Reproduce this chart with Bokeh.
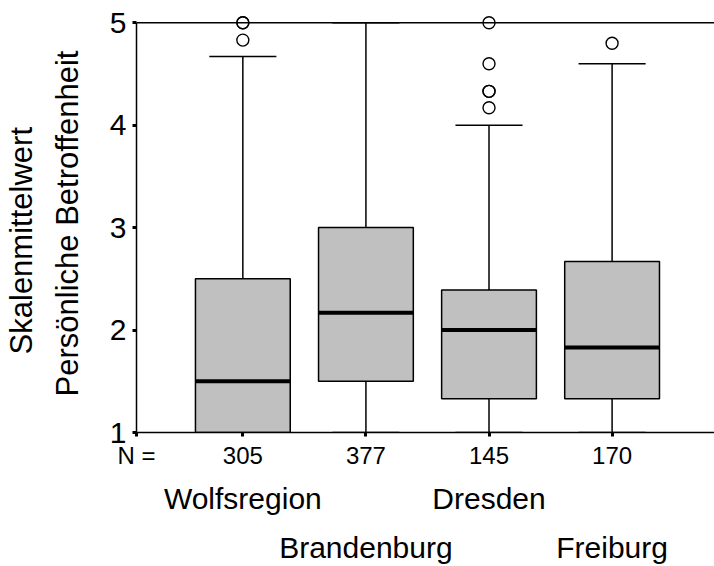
from bokeh.plotting import figure
from bokeh.models import ColumnDataSource, LinearAxis, FixedTicker, Range1d, Span
from bokeh.embed import file_html
from bokeh.resources import INLINE

# Box plot summary per region
categories = ["Wolfsregion", "Brandenburg", "Dresden", "Freiburg"]
n_counts = [305, 377, 145, 170]
q1 = [1.0, 1.5, 1.33, 1.33]
median = [1.5, 2.17, 2.0, 1.83]
q3 = [2.5, 3.0, 2.39, 2.67]
whisker_low = [1.0, 1.0, 1.0, 1.0]
whisker_high = [4.67, 5.0, 4.0, 4.6]

# Outliers: group index (1-based) and value
outlier_group = [1, 1, 1, 3, 3, 3, 3, 3, 4]
outlier_value = [5.0, 5.0, 4.83, 5.0, 4.6, 4.33, 4.33, 4.17, 4.8]

y_ticks = [1, 2, 3, 4, 5]
n_caption = "N ="

FONT = "Liberation Sans"
BOX_W = 0.77
CAP_W = 0.545
X0 = 0.136
NBSP = "\u00a0"

xs = list(range(1, len(categories) + 1))
src = ColumnDataSource(dict(
    x=xs, q1=q1, med=median, q3=q3, lo=whisker_low, hi=whisker_high,
    bl=[x - BOX_W / 2 for x in xs], br=[x + BOX_W / 2 for x in xs],
    cl=[x - CAP_W / 2 for x in xs], cr=[x + CAP_W / 2 for x in xs],
))

p = figure(width=714, height=566, output_backend="svg", toolbar_location=None,
           x_range=Range1d(X0, 4.832), y_range=Range1d(1.0, 5.08),
           x_axis_location=None, y_axis_location=None,
           min_border_left=136, min_border_right=0,
           min_border_top=14, min_border_bottom=134)
p.outline_line_color = None
p.background_fill_color = "white"
p.border_fill_color = "white"
p.xgrid.visible = False
p.ygrid.visible = False

# Top frame line at the scale maximum
p.add_layout(Span(location=5, dimension="width", line_color="black", line_width=1.5))

# Whiskers
p.segment(x0="x", y0="q3", x1="x", y1="hi", source=src, line_color="black", line_width=1.5)
p.segment(x0="x", y0="lo", x1="x", y1="q1", source=src, line_color="black", line_width=1.5)
p.segment(x0="cl", y0="hi", x1="cr", y1="hi", source=src, line_color="black", line_width=1.5)
p.segment(x0="cl", y0="lo", x1="cr", y1="lo", source=src, line_color="black", line_width=1.5)

# Boxes and medians
p.vbar(x="x", width=BOX_W, bottom="q1", top="q3", source=src,
       fill_color="#c0c0c0", line_color="black", line_width=1.5)
p.segment(x0="bl", y0="med", x1="br", y1="med", source=src, line_color="black", line_width=4)

# Outliers
p.scatter(x=outlier_group, y=outlier_value, marker="circle", size=12,
          fill_color=None, line_color="black", line_width=1.4)

# Y axis with a two-line title
yax = LinearAxis(ticker=FixedTicker(ticks=y_ticks), bounds=(1, 5),
                 axis_label="Skalenmittelwert" + NBSP * 4 + "\n" + "Persönliche Betroffenheit")
yax.axis_line_color = "black"
yax.axis_line_width = 1.5
yax.major_tick_in = 0
yax.major_tick_out = 4
yax.major_tick_line_width = 3
yax.minor_tick_line_color = None
yax.major_label_text_font = FONT
yax.major_label_text_font_size = "30px"
yax.major_label_text_color = "black"
yax.major_label_standoff = 6
yax.axis_label_text_font = FONT
yax.axis_label_text_font_size = "31px"
yax.axis_label_text_font_style = "normal"
yax.axis_label_text_color = "black"
yax.axis_label_text_line_height = 1.3
yax.axis_label_standoff = 22
p.add_layout(yax, "left")

# X axis with group sizes, captioned at the left edge
n_ticks = [X0 + 0.001] + xs
n_labels = {X0 + 0.001: n_caption}
n_labels.update({x: str(n) for x, n in zip(xs, n_counts)})
xax = LinearAxis(ticker=FixedTicker(ticks=n_ticks), major_label_overrides=n_labels)
xax.axis_line_color = "black"
xax.axis_line_width = 1.5
xax.major_tick_in = 0
xax.major_tick_out = 4
xax.major_tick_line_width = 3
xax.minor_tick_line_color = None
xax.major_label_text_font = FONT
xax.major_label_text_font_size = "24px"
xax.major_label_text_color = "black"
xax.major_label_standoff = 5
p.add_layout(xax, "below")

# Region names, staggered on two rows
def name_axis(rows_pick, standoff):
    ax = LinearAxis(ticker=FixedTicker(ticks=xs),
                    major_label_overrides={x: (c if rows_pick(i) else "")
                                           for i, (x, c) in enumerate(zip(xs, categories))})
    ax.axis_line_color = None
    ax.major_tick_line_color = None
    ax.major_tick_in = 0
    ax.major_tick_out = 0
    ax.minor_tick_line_color = None
    ax.major_label_text_font = FONT
    ax.major_label_text_font_size = "30px"
    ax.major_label_text_color = "black"
    ax.major_label_standoff = standoff
    return ax

p.add_layout(name_axis(lambda i: i % 2 == 0, 10), "below")
p.add_layout(name_axis(lambda i: i % 2 == 1, 13), "below")

open("out.html", "w").write(file_html(p, INLINE))
